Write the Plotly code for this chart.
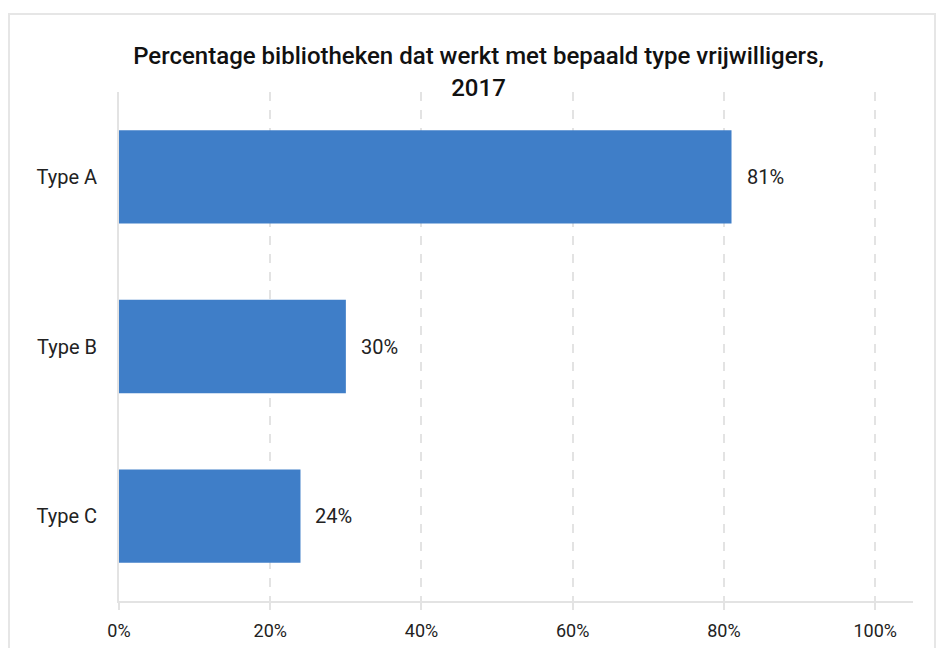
import plotly.graph_objects as go

categories = ["Type A", "Type B", "Type C"]
values = [81, 30, 24]
x_ticks = [0, 20, 40, 60, 80, 100]
x_tick_labels = ["0%", "20%", "40%", "60%", "80%", "100%"]
title_text = "Percentage bibliotheken dat werkt met bepaald type vrijwilligers,<br>2017"

BAR_COLOR = "#3f7ec8"
GRID = "#e3e3e3"
FONT = "Roboto"

fig = go.Figure()
fig.add_trace(go.Bar(
    x=values, y=categories, orientation="h",
    marker=dict(color=BAR_COLOR, line=dict(width=0)),
    width=0.55, hoverinfo="x+y",
))

for cat, val in zip(categories, values):
    fig.add_annotation(
        x=val, y=cat, text=f"{val}%", showarrow=False,
        xanchor="left", xshift=13,
        font=dict(family=FONT, size=20, color="#222222"),
    )

# page body adds an 8px offset, so the figure is drawn 8px smaller
fig.update_layout(
    width=941, height=640,
    margin=dict(l=111, r=36, t=84, b=47),
    paper_bgcolor="white", plot_bgcolor="white",
    font=dict(family=FONT, color="#222222"),
    title=dict(
        text=title_text, x=0.5, xanchor="center", xref="container",
        y=0.912, yanchor="top",
        font=dict(family=FONT, size=24, color="#111111", weight=500),
    ),
    showlegend=False,
    shapes=[dict(
        type="rect", xref="paper", yref="paper",
        x0=-0.1385, x1=1.0277, y0=-0.2, y1=1.153,
        line=dict(color="#e6e6e6", width=2), fillcolor="rgba(0,0,0,0)",
        layer="below",
    )],
)

fig.update_xaxes(
    range=[0, 105], tickvals=x_ticks, ticktext=x_tick_labels,
    showgrid=True, gridcolor=GRID, griddash="dash", gridwidth=2,
    showline=True, linecolor=GRID, linewidth=2,
    ticks="outside", ticklen=7, tickcolor=GRID, tickwidth=2,
    ticklabelstandoff=5, automargin=False,
    tickfont=dict(family=FONT, size=18, color="#222222"),
    zeroline=False, fixedrange=True,
)
fig.update_yaxes(
    categoryorder="array", categoryarray=categories[::-1],
    showline=True, linecolor=GRID, linewidth=2,
    ticks="", ticklabelstandoff=16, automargin=False,
    tickfont=dict(family=FONT, size=20, color="#222222"),
    showgrid=False, zeroline=False, fixedrange=True,
)

fig.write_html("out.html")
